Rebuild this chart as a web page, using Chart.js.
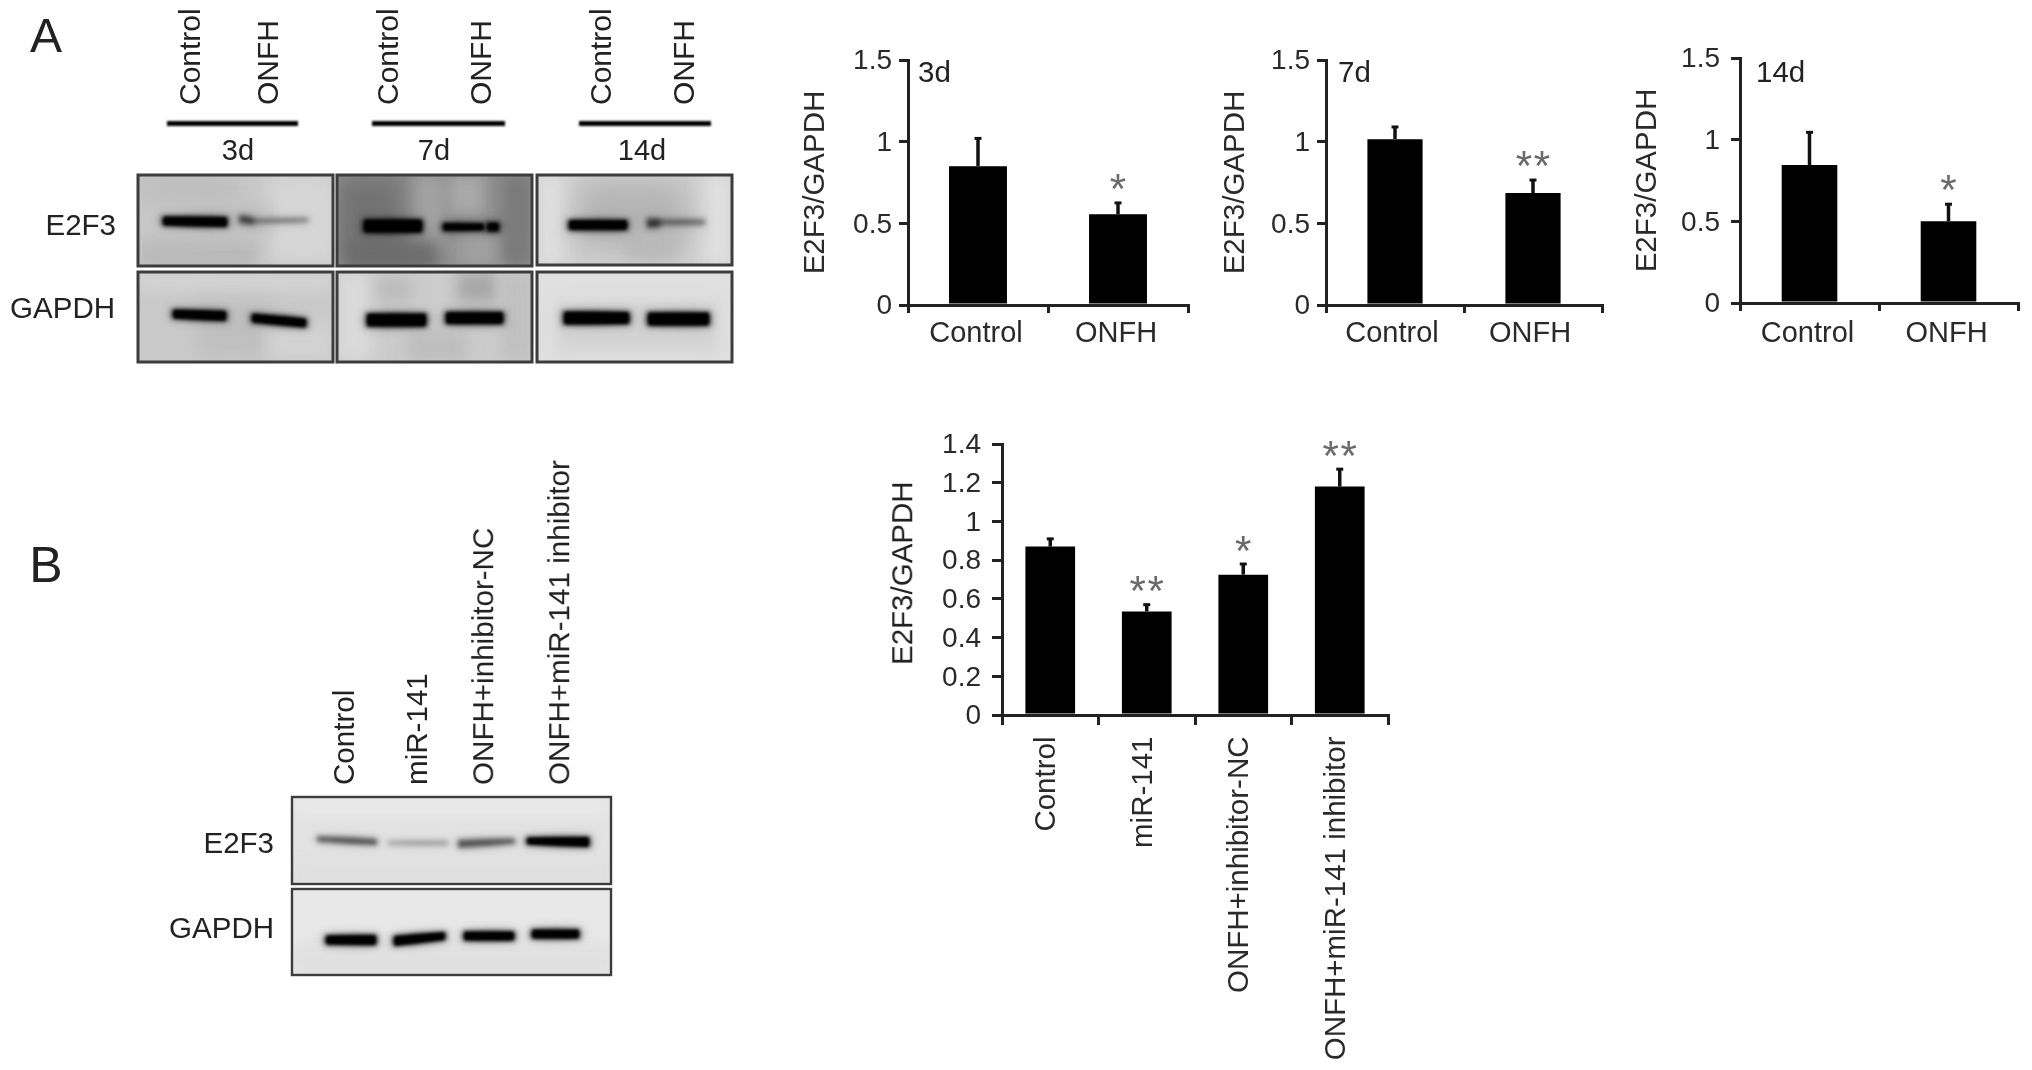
<!DOCTYPE html>
<html><head><meta charset="utf-8">
<script src="https://cdn.jsdelivr.net/npm/chart.js@4"></script>
<style>
html,body{margin:0;padding:0;background:#fff;overflow:hidden}
#stage{position:relative;width:2032px;height:1070px;filter:blur(.7px)}
canvas{position:absolute}
.t{position:absolute;font-family:"Liberation Sans",Arial,sans-serif;color:#222;white-space:nowrap;line-height:1}
</style></head><body><div id="stage"><canvas id="blots" width="2032" height="1070" style="left:0;top:0"></canvas></div>
<script>
// ---- data ----
const timeCategories = ['Control','ONFH'];
const values3d = [0.85,0.555], errors3d = [1.02,0.625], stars3d = [0,1];
const values7d = [1.015,0.685], errors7d = [1.09,0.765], stars7d = [0,2];
const values14d = [0.845,0.50], errors14d = [1.045,0.605], stars14d = [0,1];
const treatCategories = ['Control','miR-141','ONFH+inhibitor-NC','ONFH+miR-141 inhibitor'];
const valuesB = [0.87,0.535,0.725,1.18], errorsB = [0.91,0.57,0.78,1.27], starsB = [0,2,1,2];
const yTitle = 'E2F3/GAPDH';

const FONT='"Liberation Sans",Arial,sans-serif', INK='#2a2a2a';
Chart.defaults.font.family=FONT;

const errPlugin={id:'errs',afterDatasetsDraw(c,_,o){
  const g=c.ctx,y=c.scales.y;
  g.save();
  c.getDatasetMeta(0).data.forEach((b,i)=>{
    const px=b.x,top=y.getPixelForValue(o.errors[i]),base=y.getPixelForValue(c.data.datasets[0].data[i]);
    g.strokeStyle='#111';g.lineWidth=3.5;
    g.beginPath();g.moveTo(px,base);g.lineTo(px,top);g.stroke();
    g.lineWidth=3;g.beginPath();g.moveTo(px-o.cap,top);g.lineTo(px+o.cap,top);g.stroke();
    const n=o.stars[i];
    if(n){g.fillStyle='#6a6a6a';g.font='42px '+FONT;g.textAlign='center';g.textBaseline='alphabetic';
      for(let k=0;k<n;k++){g.fillText('*',px+(k-(n-1)/2)*o.starGap,top-o.starUp+24);}}
  });
  g.restore();
}};

function barChart(cfg){
  const cv=document.createElement('canvas');
  const H=cfg.axisBottom-cfg.canvasTop+cfg.xH, W=cfg.axisRight+6-cfg.canvasLeft;
  cv.width=W;cv.height=H;cv.style.left=cfg.canvasLeft+'px';cv.style.top=cfg.canvasTop+'px';
  document.getElementById('stage').appendChild(cv);
  new Chart(cv,{type:'bar',
    data:{labels:cfg.labels,datasets:[{data:cfg.values,backgroundColor:'#000',borderWidth:0,
      barPercentage:cfg.barPct,categoryPercentage:1}]},
    plugins:[errPlugin],
    options:{responsive:false,animation:false,devicePixelRatio:1,
      layout:{autoPadding:false,padding:{top:cfg.axisTop-cfg.canvasTop,right:6,left:0,bottom:0}},
      plugins:{legend:{display:false},tooltip:{enabled:false},
        errs:{errors:cfg.errors,stars:cfg.stars,cap:3.5,starUp:cfg.starUp,starGap:18}},
      scales:{
        y:{min:0,max:cfg.max,ticks:{stepSize:cfg.step,color:INK,font:{size:28},padding:cfg.yPad,labelOffset:1.5,
             callback:v=>String(+(+v).toFixed(1))},
           border:{color:'#222',width:3},
           grid:{drawOnChartArea:false,drawTicks:true,tickLength:cfg.yTick,color:'#222',lineWidth:3},
           title:{display:cfg.inChartTitle,text:yTitle,color:INK,font:{size:29.5},padding:0},
           afterFit(s){s.width=cfg.axisLeft-cfg.canvasLeft;}},
        x:{offset:true,ticks:{color:INK,font:{size:cfg.xFont},padding:cfg.xPad,autoSkip:false,labelOffset:cfg.xShift,
             minRotation:cfg.rot,maxRotation:cfg.rot},
           border:{color:'#222',width:3},
           grid:{offset:true,drawOnChartArea:false,drawTicks:true,tickLength:cfg.xTick,color:'#222',lineWidth:3},
           afterFit(s){s.height=cfg.xH;}}
      }}});
}
const common={labels:timeCategories,max:1.5,step:.5,rot:0,xFont:29,xPad:4,xTick:8,xH:50,canvasTop:30,
  inChartTitle:true,yPad:7,yTick:9,starUp:24,xShift:0};
barChart({...common,canvasLeft:798,axisLeft:908,axisRight:1188,axisTop:60,axisBottom:305,barPct:.414,xShift:-2,values:values3d,errors:errors3d,stars:stars3d});
barChart({...common,canvasLeft:1218,axisLeft:1326,axisRight:1602,axisTop:60,axisBottom:305,barPct:.40,xShift:-3,values:values7d,errors:errors7d,stars:stars7d});
barChart({...common,canvasLeft:1630,axisLeft:1740,axisRight:2018,axisTop:58,axisBottom:303,barPct:.40,yPad:11,xPad:6,xShift:-2,values:values14d,errors:errors14d,stars:stars14d});
barChart({labels:treatCategories,max:1.4,step:.2,barPct:.515,rot:90,xFont:29.5,xPad:11.5,xTick:10,xH:350,canvasTop:415,
  inChartTitle:false,yPad:11,yTick:10,starUp:23.5,xShift:-3,
  canvasLeft:880,axisLeft:1002,axisRight:1388,axisTop:444,axisBottom:715,values:valuesB,errors:errorsB,stars:starsB});

// ---- text labels ----
const stage=document.getElementById('stage');
function T(s,x,y,size,mode){ // mode: 'c' centre, 'r' right-anchored, 'l' left-anchored, 'v' rotated with bottom end at y
  const d=document.createElement('div');d.className='t';d.textContent=s;d.style.fontSize=size+'px';
  d.style.left=x+'px';d.style.top=y+'px';
  d.style.transform= mode==='v'?'translate(-50%,-50%) rotate(-90deg) translateX(50%)'
    : mode==='r'?'translate(-100%,-50%)':mode==='l'?'translateY(-50%)':'translate(-50%,-50%)';
  stage.appendChild(d);
}
T('A',46,36,48);T('B',46,565,50);
[[190,'Control'],[268,'ONFH'],[388,'Control'],[481,'ONFH'],[601,'Control'],[684,'ONFH']].forEach(a=>T(a[1],a[0],105,30,'v'));
T('3d',238,150,29);T('7d',434,150,29);T('14d',642,150,29);
T('E2F3',116,225,29.5,'r');T('GAPDH',115,308,29.5,'r');
T('3d',918,72,29.5,'l');T('7d',1338,72,29.5,'l');T('14d',1756,72,29.5,'l');
T(yTitle,902,665,29.5,'v');
[[344,'Control'],[417,'miR-141'],[483,'ONFH+inhibitor-NC'],[559,'ONFH+miR-141 inhibitor']].forEach(a=>T(a[1],a[0],785,29.6,'v'));
T('E2F3',274,843,29.5,'r');T('GAPDH',274,928,29.5,'r');

// ---- western blot panels (photographic decoration, not data) ----
const g=document.getElementById('blots').getContext('2d');
g.filter='blur(.8px)';
[[167,298],[372,505],[579,711]].forEach(r=>{g.fillStyle='#000';g.fillRect(r[0],121,r[1]-r[0],5);});
g.filter='none';
function panel(x,y,w,h,bg,patches,bands){
  g.save();g.beginPath();g.rect(x,y,w,h);g.clip();
  g.fillStyle=bg;g.fillRect(x,y,w,h);
  (patches||[]).forEach(p=>{g.filter=`blur(${p[5]||12}px)`;g.fillStyle=p[4];g.fillRect(x+p[0],y+p[1],p[2],p[3]);});
  (bands||[]).forEach(b=>{ // x0,x1,yL,yR,thL,thR,alpha
    const [a,c,yl,yr,l,r,al]=b;const mid=(a+c)/2,ym=(yl+yr)/2;
    const path=(e)=>{g.beginPath();g.moveTo(a-e,yl-l/2-e*.4);g.quadraticCurveTo(mid,ym-(l+r)/4-1-e,c+e,yr-r/2-e*.4);
      g.lineTo(c+e,yr+r/2+e*.4);g.quadraticCurveTo(mid,ym+(l+r)/4+1+e,a-e,yl+l/2+e*.4);g.closePath();g.fill();};
    g.filter='blur(5px)';g.fillStyle=`rgba(0,0,0,${.28*al})`;path(2);
    g.filter='blur(2.4px)';g.fillStyle=`rgba(0,0,0,${al})`;path(0);
    if(al>.8){g.filter='blur(1.6px)';g.fillStyle='#000';path(-2);}
  });
  g.restore();g.filter='blur(.6px)';g.strokeStyle='#3c3c3c';g.lineWidth=bw;g.strokeRect(x,y,w,h);g.filter='none';
}
let bw=3;
panel(138,175,195,91,'#c9c9c9',[[0,0,100,28,'#bcbcbc'],[130,0,70,90,'#d6d6d6',10],[0,65,120,30,'#b8b8b8',9],[60,30,70,30,'#c0c0c0',8]],
  [[162,228,221,222,9,10,.98],[239,254,219,221,8,6,.62],[252,308,221,220,4,4,.42]]);
panel(337,175,195,91,'#8f8f8f',[[0,0,65,91,'#727272'],[78,0,30,70,'#a2a2a2',7],[112,0,35,40,'#a9a9a9',7],[120,55,45,40,'#a0a0a0',9],[165,0,30,91,'#7a7a7a',7],[10,65,90,30,'#6c6c6c',8]],
  [[363,423,226,226,13,13,1],[442,485,227,227,8,7,.95],[486,500,227,227,9,9,.9]]);
panel(537,175,195,90,'#d2d2d2',[[0,0,30,90,'#dfdfdf',8],[165,0,30,90,'#e0e0e0',8],[40,5,110,70,'#b4b4b4',15],[90,60,50,25,'#b8b8b8',8]],
  [[568,628,225,225,10,10,.98],[647,660,223,223,9,7,.68],[658,705,222,222,5,5,.45]]);
panel(138,272,195,90,'#cacaca',[[0,0,195,18,'#d4d4d4',7],[60,30,70,55,'#bfbfbf',10],[130,50,65,40,'#d2d2d2',8]],
  [[172,227,314,316,9,10,1],[251,307,318,323,9,9,1]]);
panel(337,272,195,90,'#cccccc',[[0,0,35,90,'#dadada',8],[120,0,40,30,'#a8a8a8',7],[40,5,35,25,'#bcbcbc',7],[70,60,60,30,'#bdbdbd',8],[165,0,30,90,'#c0c0c0',8]],
  [[366,427,320,320,13,13,1],[445,504,318,318,12,12,1]]);
panel(537,272,195,90,'#e0e0e0',[[20,30,160,50,'#d2d2d2',8]],
  [[563,630,318,318,13,12,1],[647,710,319,319,13,13,1]]);
bw=2.4;
panel(292,797,319,87,'#e3e3e3',[[0,0,319,18,'#e8e8e8',6],[0,65,319,25,'#dfdfdf',6]],
  [[317,377,839,842,5,6,.62],[388,448,843,843,4,5,.26],[458,515,844,841,8,5,.6],[526,590,841,842,7,10,1]]);
panel(292,889,319,86,'#e8e8e8',[[0,55,319,35,'#e0e0e0',7]],
  [[325,377,940,940,9,10,1],[393,446,941,936,10,8,1],[463,515,936,936,9,9,1],[531,580,934,934,9,9,1]]);
</script></body></html>
